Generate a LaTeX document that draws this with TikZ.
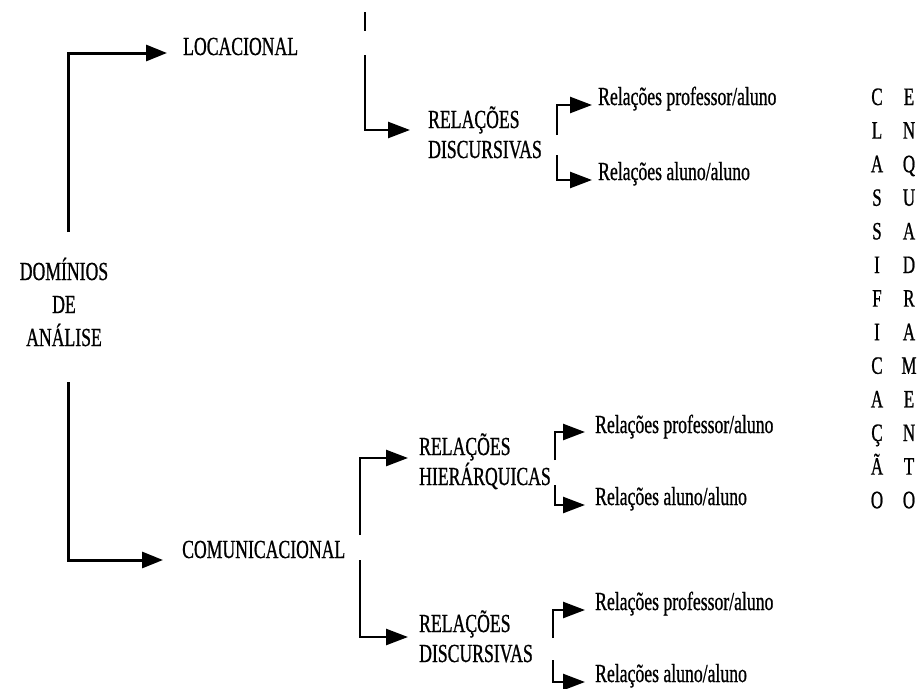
\documentclass[tikz,border=0pt]{standalone}
\usepackage{fontspec}
\setmainfont{Liberation Serif}[FakeStretch=0.68,FakeBold=0.8]
\usetikzlibrary{arrows.meta,calc}

\begin{document}
\begin{tikzpicture}[x=1pt,y=-1pt,
  lbl/.style={inner sep=0pt, anchor=base west, align=left,
              font=\fontsize{26}{30}\selectfont},
  rootlbl/.style={inner sep=0pt, anchor=base, align=center,
              font=\fontsize{26}{33}\selectfont},
  letter/.style={inner sep=0pt, anchor=base,
              font=\fontsize{25}{26}\selectfont},
  mainarr/.style={line width=3pt, -{Triangle[length=21pt,width=16pt]}},
  brarr/.style={line width=2.5pt, -{Triangle[length=22pt,width=16pt]}},
]
\useasboundingbox (0,0) rectangle (918,688);

% root label (anchored at the baseline of its last line)
\node[rootlbl] (dom) at (64,346) {DOMÍNIOS\\DE\\ANÁLISE};

% first level
\node[lbl] (loc) at (183,55) {LOCACIONAL};
\node[lbl] (com) at (182,558) {COMUNICACIONAL};

% second level (anchored at the baseline of the second line)
\node[lbl] (rd1) at (428,158) {RELAÇÕES\\DISCURSIVAS};
\node[lbl] (rh)  at (419,485) {RELAÇÕES\\HIERÁRQUICAS};
\node[lbl] (rd2) at (419,662) {RELAÇÕES\\DISCURSIVAS};

% third level
\node[lbl] (p1) at (598,105) {Relações professor/aluno};
\node[lbl] (a1) at (598,180) {Relações aluno/aluno};
\node[lbl] (p2) at (595,433) {Relações professor/aluno};
\node[lbl] (a2) at (595,505) {Relações aluno/aluno};
\node[lbl] (p3) at (595,610) {Relações professor/aluno};
\node[lbl] (a3) at (595,682) {Relações aluno/aluno};

% vertical words on the right
\foreach \ch [count=\i] in {C,L,A,S,S,I,F,I,C,A,Ç,Ã,O}
  \node[letter] (cl\i) at (877,{105+33.6*(\i-1)}) {\ch};
\foreach \ch [count=\i] in {E,N,Q,U,A,D,R,A,M,E,N,T,O}
  \node[letter] (en\i) at (909,{105+33.6*(\i-1)}) {\ch};

% branch starting points
\coordinate (d1) at (68,232);
\coordinate (d2) at (68,382);
\coordinate (l1) at (365,55);
\coordinate (c1) at (360,535);
\coordinate (c2) at (360,560);
\coordinate (b1) at (557,135);
\coordinate (b2) at (557,155);
\coordinate (b3) at (555,460);
\coordinate (b4) at (555,485);
\coordinate (b5) at (553,638);
\coordinate (b6) at (553,660);

% short stub above the locational branch
\draw[line width=2pt] (365,12) -- (365,31);

% connectors
\draw[mainarr] (d1) |- ([xshift=-16pt,yshift=2pt]loc.base west);
\draw[mainarr] (d2) |- ([xshift=-19pt,yshift=-2pt]com.base west);
\draw[brarr] (l1) |- ([xshift=-18pt,yshift=28pt]rd1.base west);
\draw[brarr] (c1) |- ([xshift=-11pt,yshift=27pt]rh.base west);
\draw[brarr] (c2) |- ([xshift=-11pt,yshift=25pt]rd2.base west);
\draw[brarr] (b1) |- ([xshift=-6pt]p1.base west);
\draw[brarr] (b2) |- ([xshift=-6pt]a1.base west);
\draw[brarr] (b3) |- ([xshift=-10pt,yshift=1pt]p2.base west);
\draw[brarr] (b4) |- ([xshift=-10pt]a2.base west);
\draw[brarr] (b5) |- ([xshift=-10pt]p3.base west);
\draw[brarr] (b6) |- ([xshift=-10pt]a3.base west);
\end{tikzpicture}
\end{document}
